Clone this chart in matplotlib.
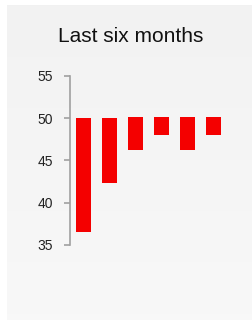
import numpy as np
import matplotlib.pyplot as plt

plt.rcParams['font.family'] = ['Liberation Sans', 'DejaVu Sans']

months = ['m1', 'm2', 'm3', 'm4', 'm5', 'm6']
tops = [50.0, 50.0, 50.1, 50.1, 50.1, 50.1]
values = [36.5, 42.3, 46.3, 48.0, 46.2, 48.0]
yticks = [35, 40, 45, 50, 55]

W, H = 253, 320
fig = plt.figure(figsize=(W / 100, H / 100), dpi=100)
fig.patch.set_facecolor('white')

# grey panel with a faint vertical gradient
bg = fig.add_axes([7 / W, 0, 246 / W, 315 / H])
grad = np.linspace(0.949, 0.973, 256).reshape(-1, 1)
bg.imshow(np.repeat(grad, 3, axis=1).reshape(256, 1, 3).repeat(2, axis=1),
          aspect='auto', extent=[0, 1, 0, 1], origin='upper')
bg.set_axis_off()

fig.text(130.5 / W, 1 - 36 / H, 'Last six months', ha='center', va='center',
         fontsize=15, color='#111111')

# axes: y=55 at px 76, y=35 at px 245, left spine at px 70
ax = fig.add_axes([70 / W, 1 - 245 / H, 175 / W, 169 / H])
ax.patch.set_alpha(0)
x = np.arange(len(months))
heights = [t - v for t, v in zip(tops, values)]
ax.bar(x, heights, bottom=values, width=0.56, color='#f40000')
ax.set_ylim(35, 55)
ax.set_xlim(-0.52, 6.2)
ax.set_yticks(yticks)
ax.set_xticks([])
for s in ['top', 'right', 'bottom']:
    ax.spines[s].set_visible(False)
ax.spines['left'].set_color('#a0a0a0')
ax.spines['left'].set_linewidth(1.2)
ax.tick_params(axis='y', length=4, width=1.2, color='#a0a0a0',
               labelsize=10, labelcolor='#222222', pad=8)

fig.savefig('out.png', dpi=100)
